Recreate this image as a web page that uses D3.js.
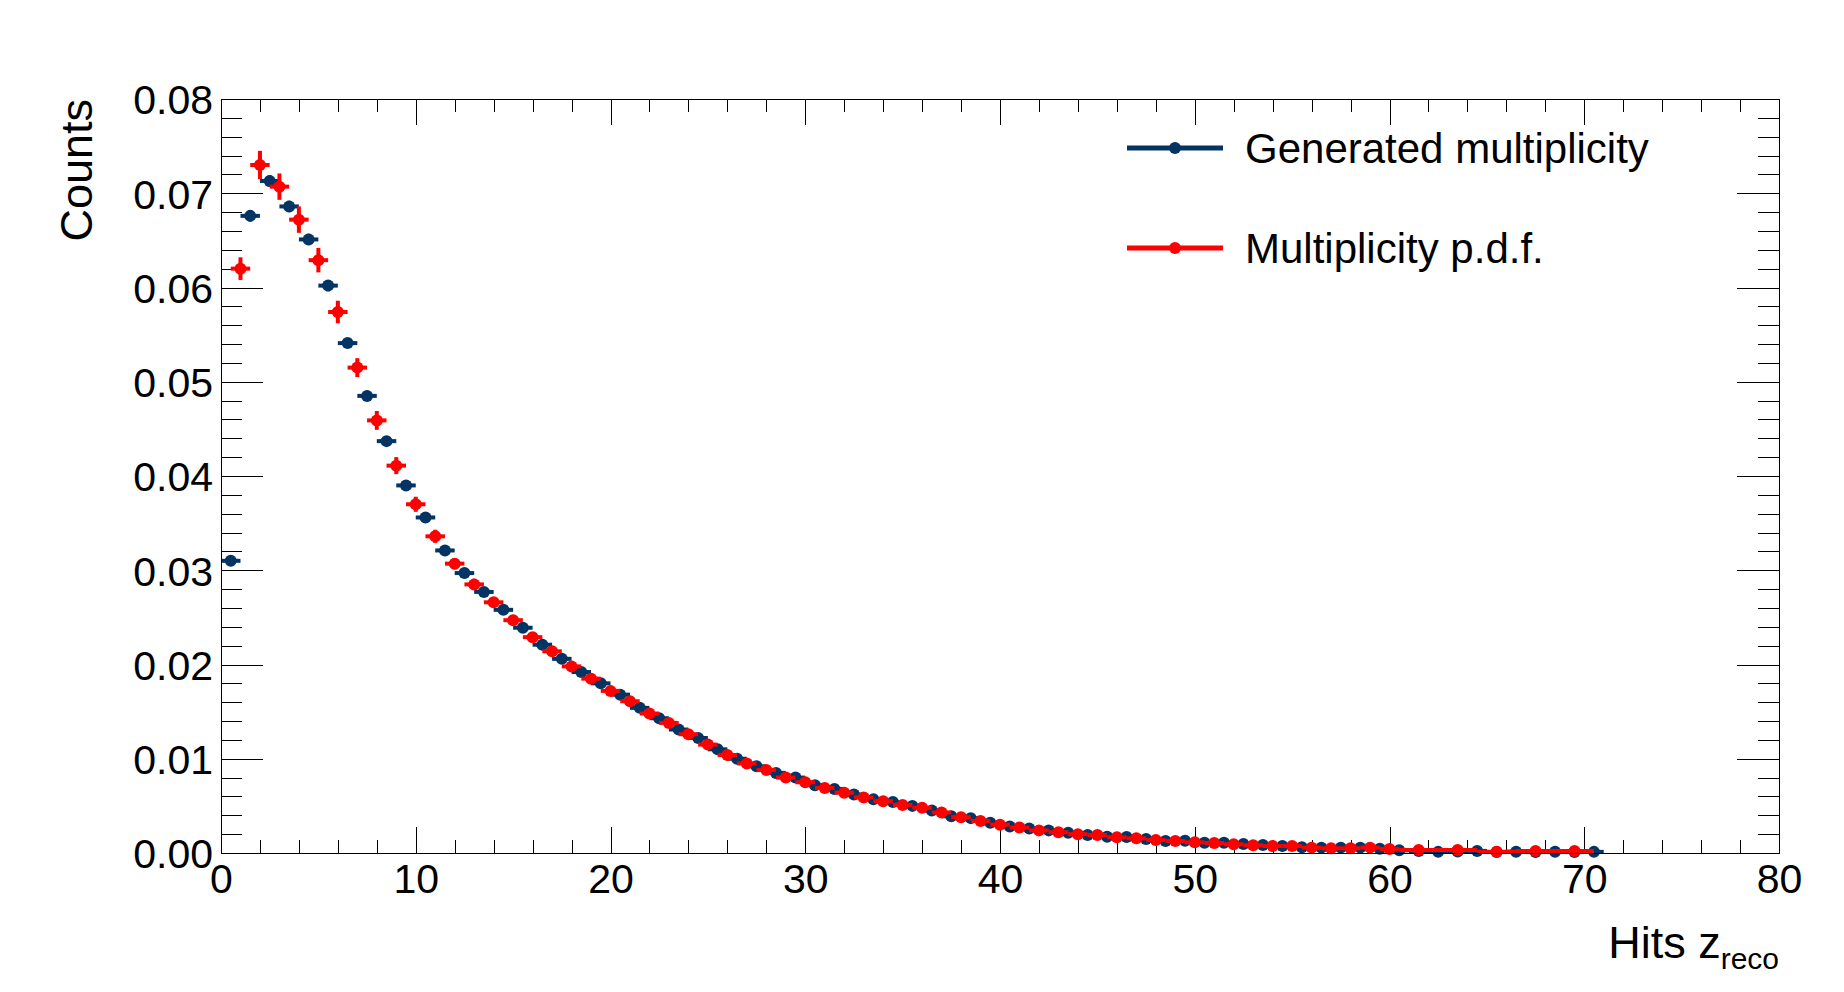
<!DOCTYPE html>
<html>
<head>
<meta charset="utf-8">
<script src="https://cdn.jsdelivr.net/npm/d3@7"></script>
<style>
  body { margin: 0; background: #fff; }
  svg { display: block; font-family: "Liberation Sans", Arial, Helvetica, sans-serif; }
  .axis path, .axis line { stroke: #000; stroke-width: 1; shape-rendering: crispEdges; }
</style>
</head>
<body>
<div id="chart"></div>
<script>
"use strict";

// generated multiplicity, bin centres 0.5 .. 70.5
var genX = d3.range(0.5, 71, 1);
var genY = [
  0.0310, 0.0676, 0.0713, 0.0686, 0.0651, 0.0602, 0.0541, 0.0485, 0.0437, 0.0390,
  0.0356, 0.0321, 0.0297, 0.0277, 0.0258, 0.0239, 0.0221, 0.0206, 0.0192, 0.0180,
  0.0168, 0.0154, 0.0143, 0.0131, 0.0122, 0.0110, 0.0100, 0.0092, 0.0085, 0.0080,
  0.0072, 0.0068, 0.0062, 0.0057, 0.0054, 0.0050, 0.0045, 0.0039, 0.0037, 0.0032,
  0.0028, 0.0026, 0.0024, 0.00216, 0.0019, 0.00173, 0.0017, 0.00148, 0.00127, 0.0013,
  0.0011, 0.0011, 0.00095, 0.00085, 0.00074, 0.0006, 0.00057, 0.00057, 0.00057, 0.00046,
  0.00028, 0.0002, 0.00012, 0.00015, 0.00022, 0.0001, 0.00014, 0.0001, 0.00014, 0.0001,
  0.00012
];
var genErr = [
  0.0004, 0.0006, 0.0006, 0.0006, 0.0006, 0.0006, 0.0005, 0.0005, 0.0005, 0.0004,
  0.0004, 0.0004, 0.0004, 0.0004, 0.0003, 0.0003, 0.0003, 0.0003, 0.0003, 0.0003,
  0.0003, 0.0003, 0.0003, 0.0003, 0.0002, 0.0002, 0.0002, 0.0002, 0.0002, 0.0002,
  0.0002, 0.0002, 0.0002, 0.0002, 0.0002, 0.0002, 0.0002, 0.0002, 0.0002, 0.0002,
  0.0001, 0.0001, 0.0001, 0.0001, 0.0001, 0.0001, 0.0001, 0.0001, 0.0001, 0.0001,
  0.0001, 0.0001, 0.0001, 0.0001, 0.0001, 0.0001, 0.0001, 0.0001, 0.0001, 0.0001,
  0.0001, 0.0001, 0.0001, 0.0001, 0.0001, 0.0001, 0.0001, 0.0001, 0.0001, 0.0001,
  0.0001
];

// multiplicity p.d.f., unit bins up to 60 then 2-wide bins
var pdfX = d3.range(1, 61, 1).concat([61.5, 63.5, 65.5, 67.5, 69.5]);
var pdfXErr = d3.range(1, 61, 1).map(function() { return 0.5; }).concat([1, 1, 1, 1, 1]);
var pdfY = [
  0.0620, 0.0730, 0.0707, 0.0672, 0.0629, 0.0574, 0.0515, 0.0459, 0.0411, 0.0370,
  0.0336, 0.0307, 0.0285, 0.0266, 0.0247, 0.0229, 0.0214, 0.0198, 0.0185, 0.0172,
  0.0161, 0.0148, 0.0138, 0.0126, 0.0115, 0.0104, 0.0095, 0.0088, 0.0080, 0.0075,
  0.0069, 0.0064, 0.0059, 0.0055, 0.0051, 0.0048, 0.0043, 0.0038, 0.0034, 0.0030,
  0.0027, 0.0024, 0.0022, 0.0020, 0.0019, 0.00166, 0.00156, 0.00138, 0.00127, 0.00113,
  0.00106, 0.00092, 0.00081, 0.00074, 0.00074, 0.00057, 0.0005, 0.0005, 0.00057, 0.00042,
  0.00032, 0.00032, 0.00014, 0.0002, 0.0002
];
var pdfErr = [
  0.0012, 0.0015, 0.0014, 0.0014, 0.0013, 0.0012, 0.0010, 0.0010, 0.0009, 0.0008,
  0.0007, 0.0006, 0.0006, 0.0005, 0.0005, 0.0005, 0.0004, 0.0004, 0.0004, 0.0004,
  0.0004, 0.0003, 0.0003, 0.0003, 0.0003, 0.0003, 0.0003, 0.0002, 0.0002, 0.0002,
  0.0002, 0.0002, 0.0002, 0.0002, 0.0002, 0.0002, 0.0002, 0.0002, 0.0002, 0.0001,
  0.0001, 0.0001, 0.0001, 0.0001, 0.0001, 0.0001, 0.0001, 0.0001, 0.0001, 0.0001,
  0.0001, 0.0001, 0.0001, 0.0001, 0.0001, 0.0001, 0.0001, 0.0001, 0.0001, 0.0001,
  0.0001, 0.0001, 0.0001, 0.0001, 0.0001
];

var xMajor = [0, 10, 20, 30, 40, 50, 60, 70, 80];
var yMajor = [0, 0.01, 0.02, 0.03, 0.04, 0.05, 0.06, 0.07, 0.08];
var legendLabels = ["Generated multiplicity", "Multiplicity p.d.f."];
var colors = ["#033463", "#ff0000"];

var W = 1844, H = 992;
var plot = { left: 221, right: 1779, top: 99, bottom: 853 };
var markerR = 6;

var svg = d3.select("#chart").append("svg")
  .attr("width", W)
  .attr("height", H);

svg.append("rect").attr("width", W).attr("height", H).attr("fill", "#fff");

var x = d3.scaleLinear().domain([0, 80]).range([plot.left, plot.right]);
var y = d3.scaleLinear().domain([0, 0.08]).range([plot.bottom, plot.top]);

var xMinor = d3.range(0, 81, 2).filter(function(v) { return v % 10 !== 0; });
var yMinor = d3.range(0, 0.0801, 0.002).filter(function(v) { return Math.abs(v * 100 - Math.round(v * 100)) > 1e-6; });

// bottom axis with labels
var gx = svg.append("g").attr("class", "axis")
  .attr("transform", "translate(0," + plot.bottom + ")")
  .call(d3.axisBottom(x).tickValues(xMajor).tickFormat(d3.format("d"))
    .tickSizeInner(-26).tickSizeOuter(0).tickPadding(11));
gx.selectAll("text").attr("font-size", 41).attr("fill", "#000");
svg.append("g").attr("class", "axis")
  .attr("transform", "translate(0," + plot.bottom + ")")
  .call(d3.axisBottom(x).tickValues(xMinor).tickFormat("").tickSizeInner(-13).tickSizeOuter(0))
  .select(".domain").remove();

// top axis, ticks only
svg.append("g").attr("class", "axis")
  .attr("transform", "translate(0," + plot.top + ")")
  .call(d3.axisTop(x).tickValues(xMajor).tickFormat("").tickSizeInner(-26).tickSizeOuter(0));
svg.append("g").attr("class", "axis")
  .attr("transform", "translate(0," + plot.top + ")")
  .call(d3.axisTop(x).tickValues(xMinor).tickFormat("").tickSizeInner(-13).tickSizeOuter(0))
  .select(".domain").remove();

// left axis with labels
var gy = svg.append("g").attr("class", "axis")
  .attr("transform", "translate(" + plot.left + ",0)")
  .call(d3.axisLeft(y).tickValues(yMajor).tickFormat(d3.format(".2f"))
    .tickSizeInner(-42).tickSizeOuter(0).tickPadding(8));
gy.selectAll("text").attr("font-size", 41).attr("fill", "#000").attr("dy", "0.36em");
svg.append("g").attr("class", "axis")
  .attr("transform", "translate(" + plot.left + ",0)")
  .call(d3.axisLeft(y).tickValues(yMinor).tickFormat("").tickSizeInner(-21).tickSizeOuter(0))
  .select(".domain").remove();

// right axis, ticks only
svg.append("g").attr("class", "axis")
  .attr("transform", "translate(" + plot.right + ",0)")
  .call(d3.axisRight(y).tickValues(yMajor).tickFormat("").tickSizeInner(-42).tickSizeOuter(0));
svg.append("g").attr("class", "axis")
  .attr("transform", "translate(" + plot.right + ",0)")
  .call(d3.axisRight(y).tickValues(yMinor).tickFormat("").tickSizeInner(-21).tickSizeOuter(0))
  .select(".domain").remove();

// axis titles
svg.append("text")
  .attr("transform", "translate(92," + plot.top + ") rotate(-90)")
  .attr("text-anchor", "end")
  .attr("font-size", 45)
  .text("Counts");

var xt = svg.append("text")
  .attr("x", plot.right)
  .attr("y", 958)
  .attr("text-anchor", "end")
  .attr("font-size", 45);
xt.append("tspan").text("Hits z");
xt.append("tspan").attr("font-size", 30).attr("dy", 11).text("reco");

// data series
function drawSeries(xs, ys, xerr, yerr, color) {
  var pts = xs.map(function(v, i) {
    return { x: v, y: ys[i], ex: xerr[i], ey: yerr[i] };
  });
  var g = svg.append("g");
  g.selectAll("line.h").data(pts).enter().append("line")
    .attr("x1", function(d) { return x(d.x - d.ex); })
    .attr("x2", function(d) { return x(d.x + d.ex); })
    .attr("y1", function(d) { return y(d.y); })
    .attr("y2", function(d) { return y(d.y); })
    .attr("stroke", color).attr("stroke-width", 4);
  g.selectAll("line.v").data(pts).enter().append("line")
    .attr("x1", function(d) { return x(d.x); })
    .attr("x2", function(d) { return x(d.x); })
    .attr("y1", function(d) { return y(d.y - d.ey); })
    .attr("y2", function(d) { return y(d.y + d.ey); })
    .attr("stroke", color).attr("stroke-width", 4);
  g.selectAll("circle").data(pts).enter().append("circle")
    .attr("cx", function(d) { return x(d.x); })
    .attr("cy", function(d) { return y(d.y); })
    .attr("r", markerR)
    .attr("fill", color);
}

drawSeries(genX, genY, genX.map(function() { return 0.5; }), genErr, colors[0]);
drawSeries(pdfX, pdfY, pdfXErr, pdfErr, colors[1]);

// frame
svg.append("rect")
  .attr("x", plot.left).attr("y", plot.top)
  .attr("width", plot.right - plot.left).attr("height", plot.bottom - plot.top)
  .attr("fill", "none").attr("stroke", "#000").attr("stroke-width", 1)
  .attr("shape-rendering", "crispEdges");

// legend
var legend = svg.append("g");
legendLabels.forEach(function(lab, i) {
  var ly = 148 + i * 100;
  legend.append("line")
    .attr("x1", 1127).attr("x2", 1223).attr("y1", ly).attr("y2", ly)
    .attr("stroke", colors[i]).attr("stroke-width", 5);
  legend.append("circle")
    .attr("cx", 1175).attr("cy", ly).attr("r", markerR).attr("fill", colors[i]);
  legend.append("text")
    .attr("x", 1245).attr("y", ly + 15)
    .attr("font-size", 42)
    .text(lab);
});
</script>
</body>
</html>
